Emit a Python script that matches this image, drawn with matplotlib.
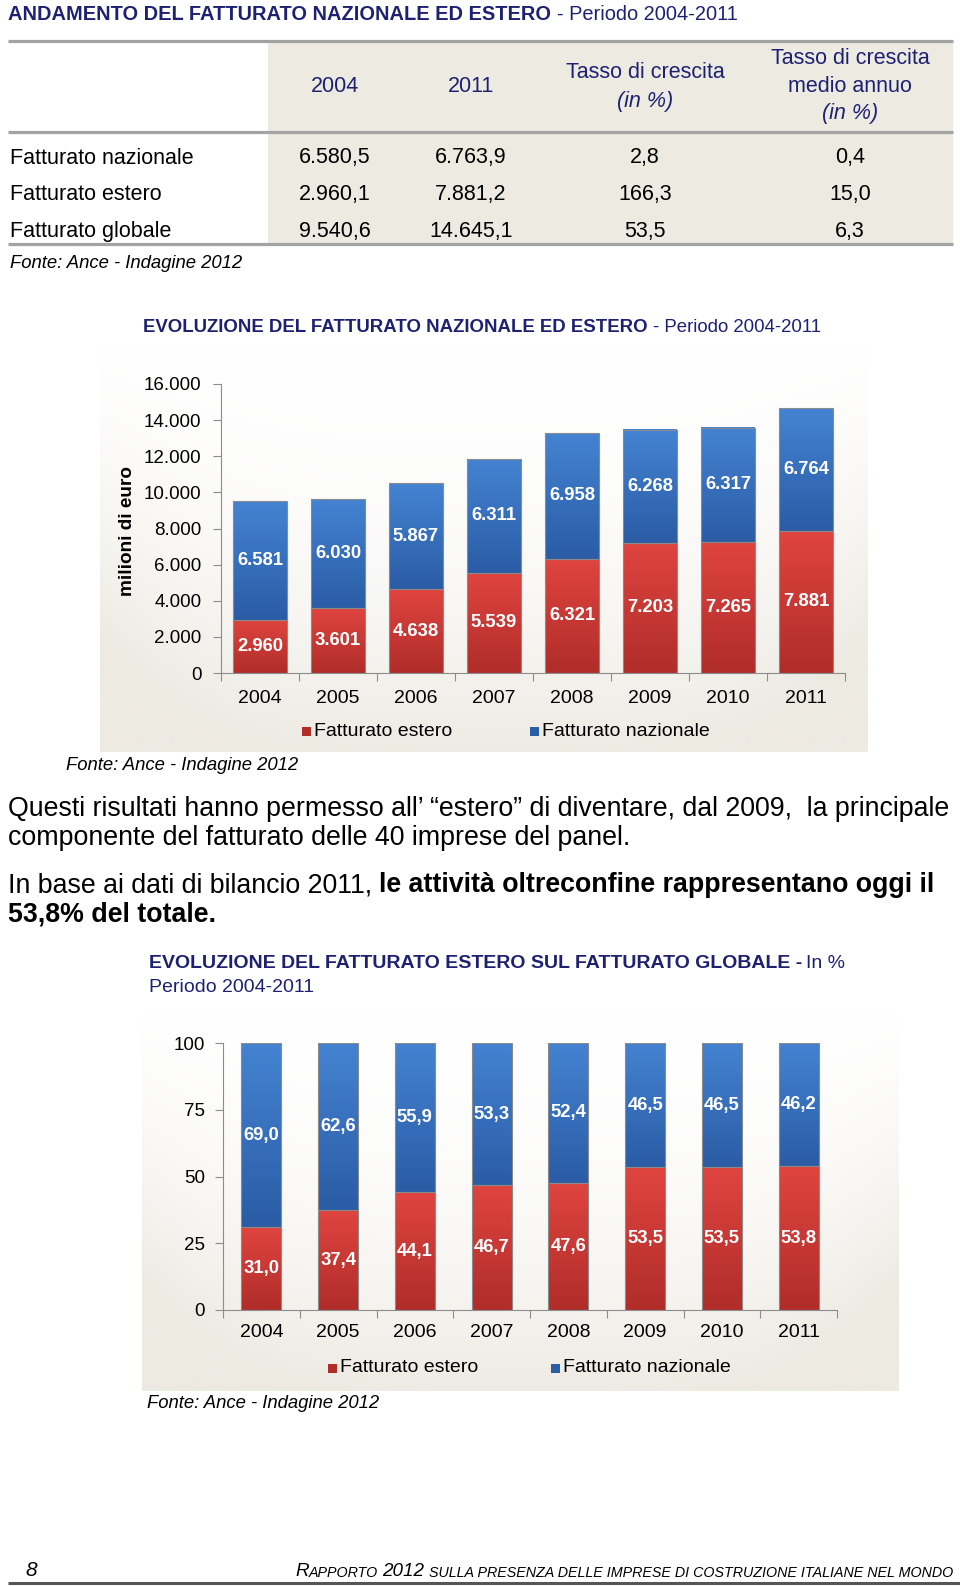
import matplotlib
matplotlib.use("Agg")
import matplotlib.pyplot as plt
import numpy as np
from matplotlib.colors import LinearSegmentedColormap, to_rgb
from matplotlib.patches import Rectangle

plt.rcParams["font.family"] = ["Liberation Sans", "DejaVu Sans"]

W, H = 960, 1586
NAVY = "#1E2172"
BEIGE = "#EDEAE2"
BLUE_TOP, BLUE_BOT = "#4483D2", "#2B5CA6"
RED_TOP, RED_BOT = "#E0443F", "#B02D2A"

# table data
ROWS = ["Fatturato nazionale", "Fatturato estero", "Fatturato globale"]
VAL_2004 = ["6.580,5", "2.960,1", "9.540,6"]
VAL_2011 = ["6.763,9", "7.881,2", "14.645,1"]
TASSO = ["2,8", "166,3", "53,5"]
TASSO_MEDIO = ["0,4", "15,0", "6,3"]

# chart data
YEARS = ["2004", "2005", "2006", "2007", "2008", "2009", "2010", "2011"]
ESTERO = [2960, 3601, 4638, 5539, 6321, 7203, 7265, 7881]
NAZIONALE = [6581, 6030, 5867, 6311, 6958, 6268, 6317, 6764]
ESTERO_PCT = [31.0, 37.4, 44.1, 46.7, 47.6, 53.5, 53.5, 53.8]
NAZIONALE_PCT = [69.0, 62.6, 55.9, 53.3, 52.4, 46.5, 46.5, 46.2]


def rect(x0, y0, x1, y1):
    return [x0 / W, 1 - y1 / H, (x1 - x0) / W, (y1 - y0) / H]


def dots(v):
    return f"{v:,}".replace(",", ".")


def panel(ax, x0, y0, x1, y1):
    u = np.linspace(-1, 1, 200)
    v = np.linspace(-1, 1, 200)
    U, V = np.meshgrid(u, v)
    vv = (V + 1) / 2
    t = np.clip(0.95 * vv ** 2 + 0.7 * np.abs(U) ** 4 * vv, 0, 1)
    white = np.ones(3)
    beige = np.array(to_rgb(BEIGE))
    img = white * (1 - t[..., None]) + beige * t[..., None]
    ax.imshow(img, extent=(x0, x1, y1, y0), aspect="auto", zorder=0)


def shade(ax, bars, top, bottom):
    cmap = LinearSegmentedColormap.from_list("g", [bottom, top])
    grad = np.linspace(0, 1, 64).reshape(-1, 1)
    for b in bars:
        x, y, w, h = b.get_x(), b.get_y(), b.get_width(), b.get_height()
        ax.imshow(grad, extent=(x, x + w, y, y + h), origin="lower",
                  cmap=cmap, aspect="auto", zorder=2)
        b.set_facecolor("none")
        b.set_zorder(2.5)


def stacked(ax, bottom_vals, top_vals, width, ymax, fmt, tick_pad, year_pad, yticks):
    x = np.arange(len(YEARS)) + 0.5
    b1 = ax.bar(x, bottom_vals, width, edgecolor="#8a8a8a", linewidth=0.8)
    b2 = ax.bar(x, top_vals, width, bottom=bottom_vals, edgecolor="#8a8a8a", linewidth=0.8)
    shade(ax, b1, RED_TOP, RED_BOT)
    shade(ax, b2, BLUE_TOP, BLUE_BOT)
    ax.bar_label(b1, labels=[fmt(v) for v in bottom_vals], label_type="center",
                 color="white", fontweight="bold", fontsize=13.3)
    ax.bar_label(b2, labels=[fmt(v) for v in top_vals], label_type="center",
                 color="white", fontweight="bold", fontsize=13.3)
    ax.set_xlim(0, len(YEARS))
    ax.set_ylim(0, ymax)
    ax.patch.set_alpha(0)
    for s in ["top", "right"]:
        ax.spines[s].set_visible(False)
    for s in ["left", "bottom"]:
        ax.spines[s].set_color("#8c8c8c")
    ax.set_yticks(yticks)
    ax.set_yticklabels([fmt(v) if isinstance(v, int) and ymax > 1000 else str(v) for v in yticks])
    ax.tick_params(axis="y", length=6, color="#8c8c8c", labelsize=13.5, pad=tick_pad)
    ax.set_xticks(np.arange(len(YEARS) + 1))
    ax.set_xticklabels([])
    ax.tick_params(axis="x", which="major", length=6, color="#8c8c8c")
    ax.set_xticks(x, minor=True)
    ax.set_xticklabels(YEARS, minor=True)
    ax.tick_params(axis="x", which="minor", length=0, labelsize=14, pad=year_pad)


def legend(ax0, y, xr, xb):
    for xx, c in [(xr, RED_BOT), (xb, BLUE_BOT)]:
        ax0.add_patch(Rectangle((xx, y - 4), 9, 9, facecolor=c, edgecolor="none"))
    ax0.text(xr + 12, y, "Fatturato estero", fontsize=14, va="center")
    ax0.text(xb + 12, y, "Fatturato nazionale", fontsize=14, va="center")


def mixed(ax0, x, y, bold, normal, size, color, gap=4):
    t = ax0.text(x, y, bold, fontsize=size, fontweight="bold", color=color, va="center")
    ax0.annotate(normal, xy=(1, 0.5), xycoords=t, xytext=(gap, 0),
                 textcoords="offset points", fontsize=size, color=color,
                 va="center", ha="left")
    return t


def main():
    fig = plt.figure(figsize=(W / 100, H / 100), dpi=100)
    ax0 = fig.add_axes([0, 0, 1, 1])
    ax0.set_axis_off()

    # ---- table
    mixed(ax0, 8, 15, "ANDAMENTO DEL FATTURATO NAZIONALE ED ESTERO",
          "- Periodo 2004-2011", 14.4, NAVY)
    ax0.add_patch(Rectangle((268, 41), 953 - 268, 203, facecolor=BEIGE, edgecolor="none"))
    for yy in [40.5, 132, 244]:
        ax0.plot([8, 953], [yy, yy], color="#a3a3a3", linewidth=2.3, solid_capstyle="butt")
    cols = [335, 471, 645, 850]
    ax0.text(cols[0], 86, "2004", fontsize=15.5, color=NAVY, ha="center", va="center")
    ax0.text(cols[1], 86, "2011", fontsize=15.5, color=NAVY, ha="center", va="center")
    ax0.text(cols[2], 73, "Tasso di crescita", fontsize=15.5, color=NAVY, ha="center", va="center")
    ax0.text(cols[2], 101, "(in %)", fontsize=15.5, color=NAVY, ha="center", va="center", style="italic")
    ax0.text(cols[3], 58, "Tasso di crescita", fontsize=15.5, color=NAVY, ha="center", va="center")
    ax0.text(cols[3], 86, "medio annuo", fontsize=15.5, color=NAVY, ha="center", va="center")
    ax0.text(cols[3], 114, "(in %)", fontsize=15.5, color=NAVY, ha="center", va="center", style="italic")
    for i, name in enumerate(ROWS):
        yy = 158 + i * 36.5
        ax0.text(10, yy, name, fontsize=15.5, va="center")
        for c, vals in zip(cols, [VAL_2004, VAL_2011, TASSO, TASSO_MEDIO]):
            ax0.text(c, yy, vals[i], fontsize=15.5, ha="center", va="center")
    ax0.text(10, 263, "Fonte: Ance - Indagine 2012", fontsize=13.3, style="italic", va="center")

    # ---- chart 1
    mixed(ax0, 143, 327, "EVOLUZIONE DEL FATTURATO NAZIONALE ED ESTERO",
          "- Periodo 2004-2011", 13.4, NAVY)
    panel(ax0, 100, 345, 868, 752)
    ax0.text(128, 531, "milioni di euro", rotation=90, fontsize=13.7, fontweight="bold",
             ha="center", va="center")
    legend(ax0, 731, 302, 530)
    ax0.text(66, 766, "Fonte: Ance - Indagine 2012", fontsize=13.3, style="italic", va="center")

    ax1 = fig.add_axes(rect(221, 384, 845, 673))
    stacked(ax1, ESTERO, NAZIONALE, 0.69, 16000, dots, 8, 12,
            list(range(0, 16001, 2000)))

    # ---- paragraph
    ax0.text(8, 809, "Questi risultati hanno permesso all\u2019 \u201cestero\u201d di diventare, dal 2009,  la principale",
             fontsize=19.3, va="center")
    ax0.text(8, 838, "componente del fatturato delle 40 imprese del panel.", fontsize=19.3, va="center")
    t = ax0.text(8, 885, "In base ai dati di bilancio 2011,", fontsize=19.3, va="center")
    ax0.annotate("le attività oltreconfine rappresentano oggi il", xy=(1, 0.5), xycoords=t,
                 xytext=(5, 0), textcoords="offset points", fontsize=19.3,
                 fontweight="bold", va="center")
    ax0.text(8, 914, "53,8% del totale.", fontsize=19.3, fontweight="bold", va="center")

    # ---- chart 2
    mixed(ax0, 149, 964, "EVOLUZIONE DEL FATTURATO ESTERO SUL FATTURATO GLOBALE -",
          "In %", 14, NAVY, gap=3)
    ax0.text(149, 988, "Periodo 2004-2011", fontsize=14, color=NAVY, va="center")
    panel(ax0, 142, 1012, 899, 1391)
    legend(ax0, 1368, 328, 551)
    ax0.text(147, 1403, "Fonte: Ance - Indagine 2012", fontsize=13.3, style="italic", va="center")

    ax2 = fig.add_axes(rect(223, 1043, 837, 1310))
    stacked(ax2, ESTERO_PCT, NAZIONALE_PCT, 0.52, 100,
            lambda v: f"{v:.1f}".replace(".", ","), 7, 10, [0, 25, 50, 75, 100])

    # ---- footer, built from the right edge
    ax0.text(25, 1571, "8", fontsize=15, style="italic", va="center")
    d = ax0.text(953, 1577, "SULLA PRESENZA DELLE IMPRESE DI COSTRUZIONE ITALIANE NEL MONDO",
                 fontsize=10.3, style="italic", ha="right", va="baseline")
    c = ax0.annotate("2012", xy=(0, 0), xycoords=d, xytext=(-3, 0), textcoords="offset points",
                     fontsize=13.6, style="italic", ha="right", va="bottom")
    b = ax0.annotate("APPORTO", xy=(0, 0), xycoords=c, xytext=(-3, 0), textcoords="offset points",
                     fontsize=10.3, style="italic", ha="right", va="bottom")
    ax0.annotate("R", xy=(0, 0), xycoords=b, fontsize=13.6, style="italic", ha="right", va="bottom")
    ax0.plot([8, 960], [1583, 1583], color="#555555", linewidth=2.2, solid_capstyle="butt")

    ax0.set_xlim(0, W)
    ax0.set_ylim(H, 0)
    fig.savefig("out.png", dpi=100)


if __name__ == "__main__":
    main()
